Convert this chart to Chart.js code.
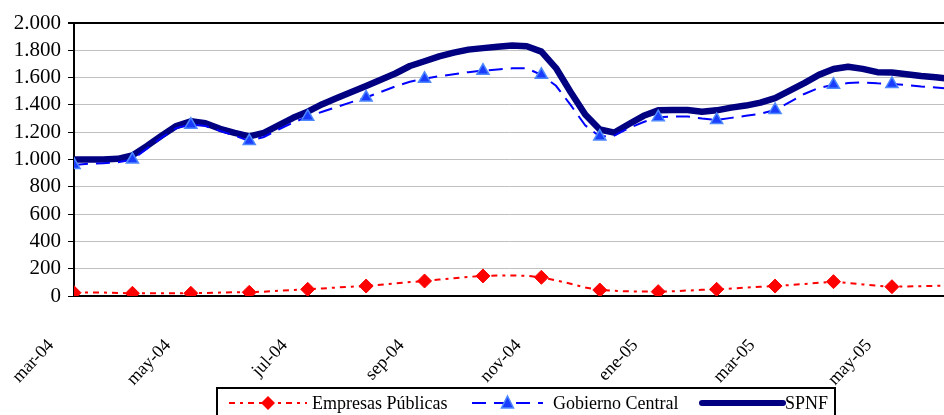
<!DOCTYPE html>
<html>
<head>
<meta charset="utf-8">
<script src="https://cdn.jsdelivr.net/npm/chart.js@4.4.1/dist/chart.umd.min.js"></script>
<style>
  html, body { margin: 0; padding: 0; background: #fff; overflow: hidden; }
  #wrap { width: 953px; height: 415px; position: relative; }
</style>
</head>
<body>
<div id="wrap"><canvas id="grafico"></canvas></div>
<script>
// meses desde mar-04 (puntos semanales aprox.)
const meses = [0, 0.25, 0.5, 0.75, 1, 1.25, 1.5, 1.75, 2, 2.25, 2.5, 2.75, 3, 3.25, 3.5, 3.75,
  4, 4.25, 4.5, 4.75, 5, 5.25, 5.5, 5.75, 6, 6.25, 6.5, 6.75, 7, 7.25, 7.5, 7.75,
  8, 8.25, 8.5, 8.75, 9, 9.25, 9.5, 9.75, 10, 10.25, 10.5, 10.75, 11, 11.25, 11.5, 11.75,
  12, 12.25, 12.5, 12.75, 13, 13.25, 13.5, 13.75, 14, 14.25, 14.5, 14.75, 14.9];

const etiquetas = ['mar-04', 'abr-04', 'may-04', 'jun-04', 'jul-04', 'ago-04', 'sep-04', 'oct-04',
  'nov-04', 'dic-04', 'ene-05', 'feb-05', 'mar-05', 'abr-05', 'may-05'];

const empresasPublicas = [24, 25, 25, 22, 20, 20, 20, 20, 20, 22,
  25, 27, 27, 32, 38, 44, 49, 55, 62, 68,
  73, 82, 92, 102, 110, 120, 130, 140, 147, 150,
  150, 148, 137, 115, 90, 62, 44, 38, 34, 33,
  32, 35, 40, 45, 49, 55, 62, 68, 73, 80,
  88, 97, 105, 95, 85, 75, 68, 70, 72, 74,
  75];

const gobiernoCentral = [960, 970, 972, 980, 1000, 1080, 1160, 1230, 1255, 1245,
  1210, 1175, 1135, 1165, 1220, 1270, 1314, 1350, 1385, 1420,
  1454, 1495, 1535, 1570, 1591, 1610, 1625, 1640, 1651, 1660,
  1668, 1668, 1620, 1540, 1400, 1250, 1168, 1175, 1230, 1275,
  1310, 1315, 1315, 1300, 1290, 1305, 1320, 1335, 1363, 1420,
  1480, 1525, 1547, 1560, 1565, 1558, 1554, 1545, 1535, 1528,
  1522];

const spnf = [1000, 1000, 1000, 1005, 1030, 1100, 1175, 1245, 1280, 1265,
  1225, 1195, 1170, 1195, 1250, 1305, 1350, 1405, 1450, 1494,
  1539, 1585, 1630, 1685, 1720, 1755, 1783, 1805, 1816, 1826,
  1835, 1830, 1790, 1670, 1495, 1330, 1220, 1197, 1260, 1320,
  1360, 1363, 1363, 1350, 1360, 1380, 1395, 1417, 1450, 1505,
  1560, 1620, 1663, 1680, 1664, 1640, 1638, 1625, 1612, 1603,
  1596];

const ticksY = [0, 200, 400, 600, 800, 1000, 1200, 1400, 1600, 1800, 2000];

const serif = "'Liberation Serif', 'DejaVu Serif', serif";

const puntos = arr => arr.map((v, i) => ({ x: meses[i], y: v }));
// marcadores solo al inicio de cada mes
const marcador = r => ctx => (ctx.raw && Number.isInteger(ctx.raw.x)) ? r : 0;

const fmtMiles = v => String(v).replace(/\B(?=(\d{3})+(?!\d))/g, '.');

// leyenda con recuadro, dibujada a mano
const leyenda = {
  id: 'leyenda',
  afterDraw(chart) {
    const c = chart.ctx;
    c.save();
    c.strokeStyle = '#000';
    c.lineWidth = 2;
    c.strokeRect(217, 388, 618, 40);
    const y = 403;
    const items = [
      { x0: 229, x1: 307, texto: 'Empresas Públicas', tx: 312, color: '#ff0000', ancho: 2, dash: [6, 5, 3, 5], punto: 'rombo' },
      { x0: 472, x1: 543, texto: 'Gobierno Central', tx: 553, color: '#0000ff', ancho: 2, dash: [14, 8], punto: 'triangulo' },
      { x0: 702, x1: 783, texto: 'SPNF', tx: 785, color: '#000080', ancho: 6, dash: [], punto: null }
    ];
    items.forEach(it => {
      c.beginPath();
      c.setLineDash(it.dash);
      c.lineCap = it.punto ? 'butt' : 'round';
      c.strokeStyle = it.color;
      c.lineWidth = it.ancho;
      c.moveTo(it.x0, y);
      c.lineTo(it.x1, y);
      c.stroke();
      c.setLineDash([]);
      const cx = (it.x0 + it.x1) / 2;
      if (it.punto === 'rombo') {
        c.beginPath();
        c.moveTo(cx, y - 7); c.lineTo(cx + 7, y); c.lineTo(cx, y + 7); c.lineTo(cx - 7, y);
        c.closePath();
        c.fillStyle = '#ff0000';
        c.fill();
      } else if (it.punto === 'triangulo') {
        c.beginPath();
        c.moveTo(cx, y - 7); c.lineTo(cx + 6, y + 5); c.lineTo(cx - 6, y + 5);
        c.closePath();
        c.fillStyle = '#1a3cff';
        c.fill();
        c.strokeStyle = '#4d88ff';
        c.lineWidth = 1.5;
        c.stroke();
      }
      c.fillStyle = '#000';
      c.font = '18px ' + serif;
      c.textBaseline = 'middle';
      c.textAlign = 'left';
      c.fillText(it.texto, it.tx, y + 1);
    });
    c.restore();
  }
};

new Chart(document.getElementById('grafico'), {
  type: 'line',
  data: {
    datasets: [
      {
        label: 'Empresas Públicas',
        data: puntos(empresasPublicas),
        borderColor: '#ff0000',
        borderWidth: 2,
        borderDash: [6, 5, 3, 5],
        pointStyle: 'rectRot',
        pointRadius: marcador(7),
        pointBackgroundColor: '#ff0000',
        pointBorderColor: '#ff0000',
        pointBorderWidth: 1,
        tension: 0
      },
      {
        label: 'Gobierno Central',
        data: puntos(gobiernoCentral),
        borderColor: '#0000ff',
        borderWidth: 2,
        borderDash: [14, 8],
        pointStyle: 'triangle',
        pointRadius: marcador(7),
        pointBackgroundColor: '#1a3cff',
        pointBorderColor: '#4d88ff',
        pointBorderWidth: 1.5,
        tension: 0
      },
      {
        label: 'SPNF',
        data: puntos(spnf),
        borderColor: '#000080',
        borderWidth: 6.5,
        borderJoinStyle: 'round',
        borderCapStyle: 'round',
        pointRadius: 0,
        tension: 0
      }
    ]
  },
  options: {
    responsive: true,
    maintainAspectRatio: false,
    animation: false,
    events: [],
    layout: { padding: { top: 23, right: 0, bottom: 0, left: 0 } },
    plugins: {
      legend: { display: false },
      tooltip: { enabled: false }
    },
    scales: {
      x: {
        type: 'linear',
        min: 0,
        max: 14.9,
        afterBuildTicks: s => { s.ticks = etiquetas.map((e, i) => ({ value: i })).filter(t => t.value % 2 === 0); },
        afterFit: s => { s.height = 119; },
        grid: { display: false },
        border: { display: true, color: '#000', width: 2 },
        ticks: {
          autoSkip: false,
          minRotation: 47,
          maxRotation: 47,
          padding: 31,
          labelOffset: -23,
          color: '#000',
          font: { family: serif, size: 18 },
          callback: v => etiquetas[v]
        }
      },
      y: {
        min: 0,
        max: 2000,
        afterBuildTicks: s => { s.ticks = ticksY.map(v => ({ value: v })); },
        afterFit: s => { s.width = 74; },
        grid: {
          color: ctx => (ctx.tick && ctx.tick.value === 2000) ? '#000' : '#c0c0c0',
          lineWidth: ctx => (ctx.tick && ctx.tick.value === 2000) ? 2 : 1,
          tickColor: '#000',
          tickLength: 6
        },
        border: { display: true, color: '#000', width: 2 },
        ticks: {
          autoSkip: false,
          padding: 7,
          color: '#000',
          font: { family: serif, size: 21 },
          callback: v => fmtMiles(v)
        }
      }
    }
  },
  plugins: [leyenda]
});
</script>
</body>
</html>
